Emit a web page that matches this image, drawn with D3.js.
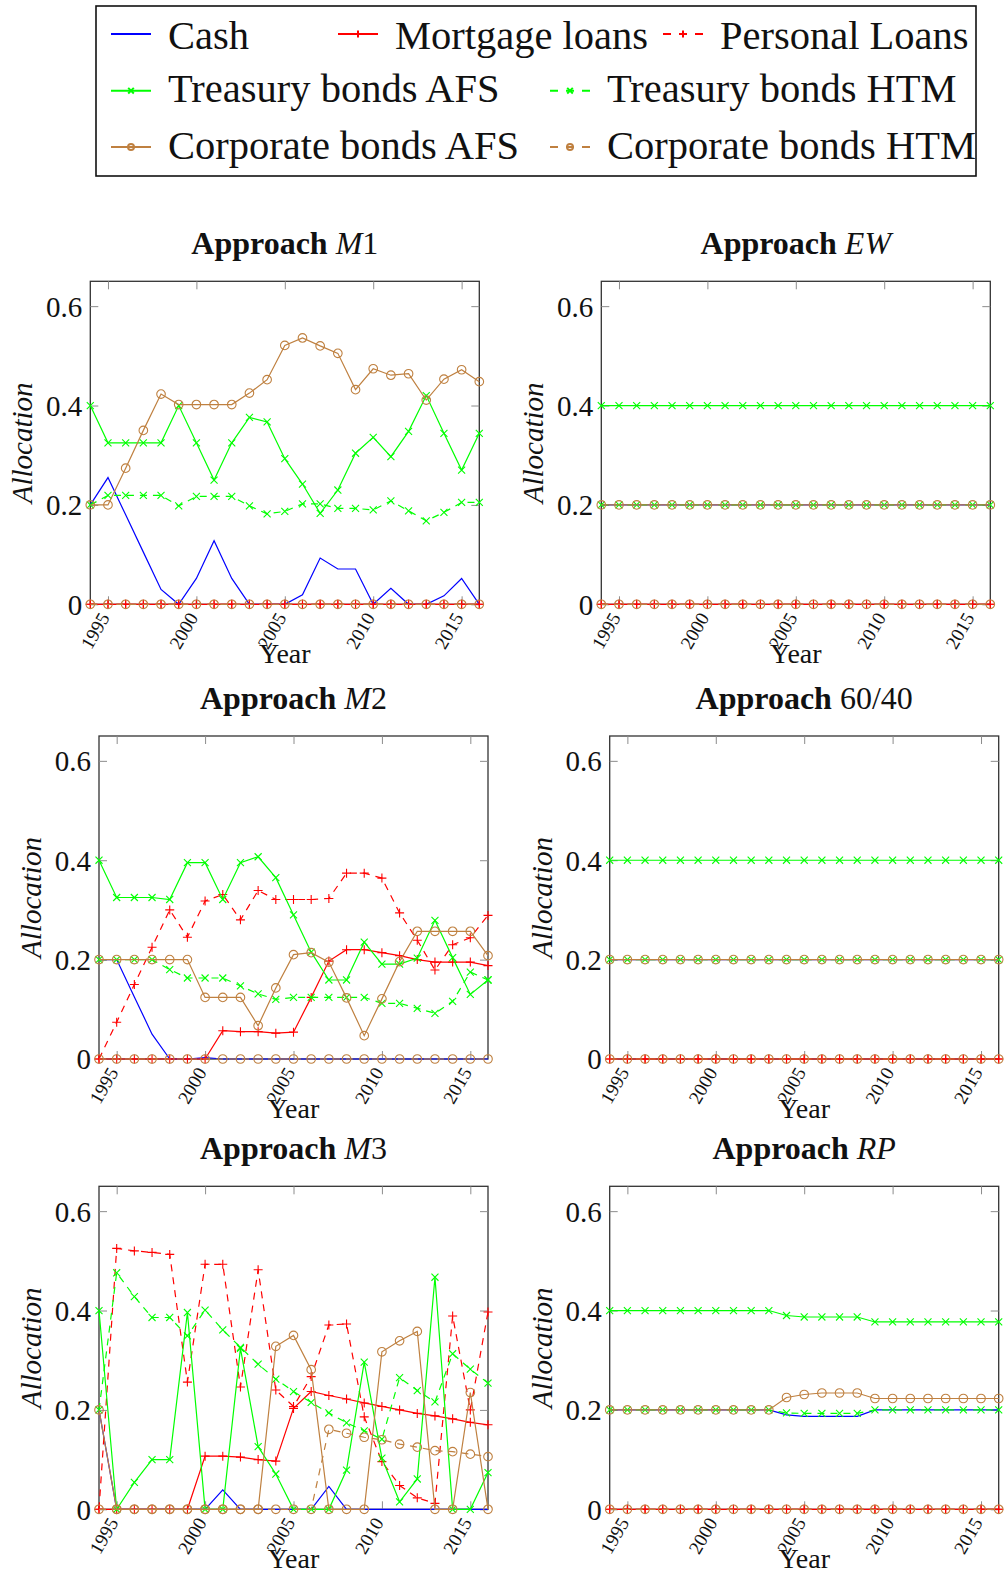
<!DOCTYPE html>
<html>
<head>
<meta charset="utf-8">
<script src="https://cdn.jsdelivr.net/npm/d3@7"></script>
<style>
  body { margin: 0; background: #fff; }
  svg { display: block; }
</style>
</head>
<body>
<div id="chart"></div>
<script>
// years on the x axis and the tick marks
const years = [1994, 1995, 1996, 1997, 1998, 1999, 2000, 2001, 2002, 2003, 2004, 2005,
  2006, 2007, 2008, 2009, 2010, 2011, 2012, 2013, 2014, 2015, 2016];
const xTicks = [1995, 2000, 2005, 2010, 2015];
const yTicks = [0, 0.2, 0.4, 0.6];

// Approach M1
const m1Cash = [0.2, 0.255, 0.18, 0.105, 0.03, 0, 0.052, 0.128, 0.052, 0, 0, 0, 0.019, 0.093, 0.071, 0.071, 0, 0.032, 0, 0, 0.017, 0.052, 0];
const m1Mortgage = [0, 0, 0, 0, 0, 0, 0, 0, 0, 0, 0, 0, 0, 0, 0, 0, 0, 0, 0, 0, 0, 0, 0];
const m1Personal = [0, 0, 0, 0, 0, 0, 0, 0, 0, 0, 0, 0, 0, 0, 0, 0, 0, 0, 0, 0, 0, 0, 0];
const m1TreasAFS = [0.4, 0.325, 0.325, 0.325, 0.325, 0.4, 0.325, 0.25, 0.325, 0.376, 0.367, 0.293, 0.242, 0.183, 0.23, 0.304, 0.336, 0.297, 0.348, 0.42, 0.344, 0.27, 0.344];
const m1TreasHTM = [0.2, 0.219, 0.219, 0.219, 0.219, 0.198, 0.217, 0.217, 0.217, 0.198, 0.182, 0.187, 0.202, 0.202, 0.193, 0.193, 0.19, 0.208, 0.188, 0.168, 0.185, 0.205, 0.205];
const m1CorpAFS = [0.2, 0.2, 0.274, 0.35, 0.423, 0.402, 0.402, 0.402, 0.402, 0.425, 0.452, 0.521, 0.536, 0.52, 0.505, 0.432, 0.474, 0.461, 0.464, 0.411, 0.453, 0.472, 0.448];
const m1CorpHTM = [0, 0, 0, 0, 0, 0, 0, 0, 0, 0, 0, 0, 0, 0, 0, 0, 0, 0, 0, 0, 0, 0, 0];

// Approach EW
const ewCash = [0.2, 0.2, 0.2, 0.2, 0.2, 0.2, 0.2, 0.2, 0.2, 0.2, 0.2, 0.2, 0.2, 0.2, 0.2, 0.2, 0.2, 0.2, 0.2, 0.2, 0.2, 0.2, 0.2];
const ewMortgage = [0, 0, 0, 0, 0, 0, 0, 0, 0, 0, 0, 0, 0, 0, 0, 0, 0, 0, 0, 0, 0, 0, 0];
const ewPersonal = [0, 0, 0, 0, 0, 0, 0, 0, 0, 0, 0, 0, 0, 0, 0, 0, 0, 0, 0, 0, 0, 0, 0];
const ewTreasAFS = [0.4, 0.4, 0.4, 0.4, 0.4, 0.4, 0.4, 0.4, 0.4, 0.4, 0.4, 0.4, 0.4, 0.4, 0.4, 0.4, 0.4, 0.4, 0.4, 0.4, 0.4, 0.4, 0.4];
const ewTreasHTM = [0.2, 0.2, 0.2, 0.2, 0.2, 0.2, 0.2, 0.2, 0.2, 0.2, 0.2, 0.2, 0.2, 0.2, 0.2, 0.2, 0.2, 0.2, 0.2, 0.2, 0.2, 0.2, 0.2];
const ewCorpAFS = [0.2, 0.2, 0.2, 0.2, 0.2, 0.2, 0.2, 0.2, 0.2, 0.2, 0.2, 0.2, 0.2, 0.2, 0.2, 0.2, 0.2, 0.2, 0.2, 0.2, 0.2, 0.2, 0.2];
const ewCorpHTM = [0, 0, 0, 0, 0, 0, 0, 0, 0, 0, 0, 0, 0, 0, 0, 0, 0, 0, 0, 0, 0, 0, 0];

// Approach M2
const m2Cash = [0.2, 0.2, 0.125, 0.05, 0, 0, 0.003, 0, 0, 0, 0, 0, 0, 0, 0, 0, 0, 0, 0, 0, 0, 0, 0];
const m2Mortgage = [0, 0, 0, 0, 0, 0, 0, 0.057, 0.055, 0.055, 0.052, 0.054, 0.124, 0.197, 0.22, 0.22, 0.214, 0.208, 0.2, 0.195, 0.195, 0.195, 0.188];
const m2Personal = [0, 0.074, 0.15, 0.225, 0.3, 0.245, 0.318, 0.331, 0.28, 0.339, 0.321, 0.321, 0.321, 0.323, 0.374, 0.374, 0.364, 0.294, 0.239, 0.179, 0.23, 0.244, 0.289];
const m2TreasAFS = [0.4, 0.325, 0.325, 0.325, 0.321, 0.395, 0.395, 0.321, 0.395, 0.407, 0.365, 0.29, 0.215, 0.159, 0.159, 0.235, 0.191, 0.191, 0.203, 0.279, 0.204, 0.13, 0.159];
const m2TreasHTM = [0.2, 0.2, 0.2, 0.2, 0.18, 0.163, 0.163, 0.163, 0.147, 0.131, 0.12, 0.124, 0.124, 0.124, 0.124, 0.124, 0.112, 0.112, 0.102, 0.092, 0.116, 0.175, 0.159];
const m2CorpAFS = [0.2, 0.2, 0.2, 0.2, 0.2, 0.2, 0.124, 0.124, 0.124, 0.067, 0.143, 0.21, 0.214, 0.195, 0.123, 0.047, 0.121, 0.196, 0.257, 0.257, 0.257, 0.257, 0.208];
const m2CorpHTM = [0, 0, 0, 0, 0, 0, 0, 0, 0, 0, 0, 0, 0, 0, 0, 0, 0, 0, 0, 0, 0, 0, 0];

// Approach 60/40
const s64Cash = [0.2, 0.2, 0.2, 0.2, 0.2, 0.2, 0.2, 0.2, 0.2, 0.2, 0.2, 0.2, 0.2, 0.2, 0.2, 0.2, 0.2, 0.2, 0.2, 0.2, 0.2, 0.2, 0.2];
const s64Mortgage = [0, 0, 0, 0, 0, 0, 0, 0, 0, 0, 0, 0, 0, 0, 0, 0, 0, 0, 0, 0, 0, 0, 0];
const s64Personal = [0, 0, 0, 0, 0, 0, 0, 0, 0, 0, 0, 0, 0, 0, 0, 0, 0, 0, 0, 0, 0, 0, 0];
const s64TreasAFS = [0.4, 0.4, 0.4, 0.4, 0.4, 0.4, 0.4, 0.4, 0.4, 0.4, 0.4, 0.4, 0.4, 0.4, 0.4, 0.4, 0.4, 0.4, 0.4, 0.4, 0.4, 0.4, 0.4];
const s64TreasHTM = [0.2, 0.2, 0.2, 0.2, 0.2, 0.2, 0.2, 0.2, 0.2, 0.2, 0.2, 0.2, 0.2, 0.2, 0.2, 0.2, 0.2, 0.2, 0.2, 0.2, 0.2, 0.2, 0.2];
const s64CorpAFS = [0.2, 0.2, 0.2, 0.2, 0.2, 0.2, 0.2, 0.2, 0.2, 0.2, 0.2, 0.2, 0.2, 0.2, 0.2, 0.2, 0.2, 0.2, 0.2, 0.2, 0.2, 0.2, 0.2];
const s64CorpHTM = [0, 0, 0, 0, 0, 0, 0, 0, 0, 0, 0, 0, 0, 0, 0, 0, 0, 0, 0, 0, 0, 0, 0];

// Approach M3
const m3Cash = [0.2, 0, 0, 0, 0, 0, 0, 0.039, 0, 0, 0, 0, 0, 0.046, 0, 0, 0, 0, 0, 0, 0, 0, 0];
const m3Mortgage = [0, 0, 0, 0, 0, 0, 0.107, 0.107, 0.105, 0.1, 0.097, 0.203, 0.237, 0.229, 0.222, 0.214, 0.207, 0.2, 0.193, 0.188, 0.182, 0.175, 0.17];
const m3Personal = [0, 0.525, 0.52, 0.517, 0.513, 0.256, 0.493, 0.493, 0.246, 0.482, 0.24, 0.207, 0.267, 0.371, 0.373, 0.186, 0.096, 0.048, 0.023, 0.012, 0.389, 0.2, 0.397];
const m3TreasAFS = [0.4, 0, 0.054, 0.1, 0.1, 0.396, 0, 0, 0.324, 0.126, 0.071, 0, 0, 0, 0.079, 0.296, 0.103, 0.015, 0.061, 0.467, 0, 0, 0.074];
const m3TreasHTM = [0.2, 0.476, 0.428, 0.386, 0.386, 0.349, 0.401, 0.361, 0.326, 0.292, 0.262, 0.237, 0.215, 0.194, 0.174, 0.158, 0.141, 0.265, 0.239, 0.216, 0.313, 0.282, 0.254];
const m3CorpAFS = [0.2, 0, 0, 0, 0, 0, 0, 0, 0, 0, 0.328, 0.35, 0.281, 0, 0, 0, 0.317, 0.339, 0.358, 0, 0, 0.235, 0];
const m3CorpHTM = [0, 0, 0, 0, 0, 0, 0, 0, 0, 0, 0, 0, 0, 0.161, 0.153, 0.145, 0.14, 0.131, 0.125, 0.118, 0.116, 0.111, 0.106];

// Approach RP
const rpCash = [0.2, 0.2, 0.2, 0.2, 0.2, 0.2, 0.2, 0.2, 0.2, 0.2, 0.19, 0.187, 0.187, 0.187, 0.187, 0.2, 0.2, 0.2, 0.2, 0.2, 0.2, 0.2, 0.2];
const rpMortgage = [0, 0, 0, 0, 0, 0, 0, 0, 0, 0, 0, 0, 0, 0, 0, 0, 0, 0, 0, 0, 0, 0, 0];
const rpPersonal = [0, 0, 0, 0, 0, 0, 0, 0, 0, 0, 0, 0, 0, 0, 0, 0, 0, 0, 0, 0, 0, 0, 0];
const rpTreasAFS = [0.4, 0.4, 0.4, 0.4, 0.4, 0.4, 0.4, 0.4, 0.4, 0.4, 0.39, 0.387, 0.387, 0.387, 0.387, 0.377, 0.377, 0.377, 0.377, 0.377, 0.377, 0.377, 0.377];
const rpTreasHTM = [0.2, 0.2, 0.2, 0.2, 0.2, 0.2, 0.2, 0.2, 0.2, 0.2, 0.194, 0.193, 0.193, 0.193, 0.193, 0.2, 0.2, 0.2, 0.2, 0.2, 0.2, 0.2, 0.2];
const rpCorpAFS = [0.2, 0.2, 0.2, 0.2, 0.2, 0.2, 0.2, 0.2, 0.2, 0.2, 0.225, 0.231, 0.234, 0.234, 0.234, 0.223, 0.223, 0.223, 0.223, 0.223, 0.223, 0.223, 0.223];
const rpCorpHTM = [0, 0, 0, 0, 0, 0, 0, 0, 0, 0, 0, 0, 0, 0, 0, 0, 0, 0, 0, 0, 0, 0, 0];

const FONT = "'Liberation Serif', 'DejaVu Serif', serif";
const W = 389; // plot width
const H = 323; // plot height
const DASH = '7,6';

// series styles, in drawing order
const series = [
	{ name: 'Cash', color: '#0000ff', dash: null, marker: null },
	{ name: 'Mortgage loans', color: '#ff0000', dash: null, marker: 'plus' },
	{ name: 'Personal Loans', color: '#ff0000', dash: DASH, marker: 'plus' },
	{ name: 'Treasury bonds AFS', color: '#00ff00', dash: null, marker: 'cross' },
	{ name: 'Treasury bonds HTM', color: '#00ff00', dash: DASH, marker: 'cross' },
	{ name: 'Corporate bonds AFS', color: '#bf8040', dash: null, marker: 'circle' },
	{ name: 'Corporate bonds HTM', color: '#bf8040', dash: DASH, marker: 'circle' }
];

const panels = [
	{ title: [['Approach ', 'b'], ['M', 'i'], ['1', 'n']], left: 90.3, top: 281.3,
		values: [m1Cash, m1Mortgage, m1Personal, m1TreasAFS, m1TreasHTM, m1CorpAFS, m1CorpHTM] },
	{ title: [['Approach ', 'b'], ['EW', 'i']], left: 601.3, top: 281.3,
		values: [ewCash, ewMortgage, ewPersonal, ewTreasAFS, ewTreasHTM, ewCorpAFS, ewCorpHTM] },
	{ title: [['Approach ', 'b'], ['M', 'i'], ['2', 'n']], left: 99, top: 736,
		values: [m2Cash, m2Mortgage, m2Personal, m2TreasAFS, m2TreasHTM, m2CorpAFS, m2CorpHTM] },
	{ title: [['Approach ', 'b'], ['60/40', 'n']], left: 609.7, top: 736,
		values: [s64Cash, s64Mortgage, s64Personal, s64TreasAFS, s64TreasHTM, s64CorpAFS, s64CorpHTM] },
	{ title: [['Approach ', 'b'], ['M', 'i'], ['3', 'n']], left: 99, top: 1186.3,
		values: [m3Cash, m3Mortgage, m3Personal, m3TreasAFS, m3TreasHTM, m3CorpAFS, m3CorpHTM] },
	{ title: [['Approach ', 'b'], ['RP', 'i']], left: 609.7, top: 1186.3,
		values: [rpCash, rpMortgage, rpPersonal, rpTreasAFS, rpTreasHTM, rpCorpAFS, rpCorpHTM] }
];

const svg = d3.select('#chart').append('svg')
		.attr('width', 1005).attr('height', 1576)
		.style('background', '#fff');

const x = d3.scaleLinear().domain([1994, 2016]).range([0, W]);
const y = d3.scaleLinear().domain([0, 0.65]).range([H, 0]);

/**
 * Draws one marker shape into a selection
 */
function drawMarker(sel, type, color, size, sw) {
	if (type === 'plus') {
		sel.append('path').attr('d', `M${-size},0H${size}M0,${-size}V${size}`)
				.attr('stroke', color).attr('stroke-width', sw).attr('fill', 'none');
	} else if (type === 'cross') {
		let s = size * 0.78;
		sel.append('path').attr('d', `M${-s},${-s}L${s},${s}M${-s},${s}L${s},${-s}`)
				.attr('stroke', color).attr('stroke-width', sw).attr('fill', 'none');
	} else if (type === 'circle') {
		sel.append('circle').attr('r', size).attr('stroke', color)
				.attr('stroke-width', sw).attr('fill', 'none');
	}
}

const line = d3.line().x(d => x(d[0])).y(d => y(d[1]));

panels.forEach(p => {
	let g = svg.append('g').attr('transform', `translate(${p.left},${p.top})`);

	// frame
	g.append('rect').attr('width', W).attr('height', H)
			.attr('fill', 'none').attr('stroke', '#333').attr('stroke-width', 1.3);

	// bottom axis with rotated year labels
	g.append('g').attr('transform', `translate(0,${H})`)
			.call(d3.axisBottom(x).tickValues(xTicks).tickSize(-8).tickFormat(d3.format('d')))
			.call(a => a.select('.domain').remove())
			.call(a => a.selectAll('line').attr('stroke', '#8c8c8c'))
			.call(a => a.selectAll('text')
					.attr('font-family', FONT).attr('font-size', 19).attr('fill', '#111')
					.attr('text-anchor', 'end').attr('y', 0).attr('dy', '0.35em')
					.attr('transform', 'translate(-4,10) rotate(-60)'));

	// top axis: ticks only
	g.append('g')
			.call(d3.axisTop(x).tickValues(xTicks).tickSize(-8).tickFormat(''))
			.call(a => a.select('.domain').remove())
			.call(a => a.selectAll('line').attr('stroke', '#8c8c8c'));

	// left axis
	g.append('g')
			.call(d3.axisLeft(y).tickValues(yTicks).tickSize(-8).tickPadding(8)
					.tickFormat(d => d === 0 ? '0' : d3.format('.1f')(d)))
			.call(a => a.select('.domain').remove())
			.call(a => a.selectAll('line').attr('stroke', '#8c8c8c'))
			.call(a => a.selectAll('text')
					.attr('font-family', FONT).attr('font-size', 29).attr('fill', '#111')
					.attr('dy', '0.34em'));

	// right axis: ticks only
	g.append('g').attr('transform', `translate(${W},0)`)
			.call(d3.axisRight(y).tickValues(yTicks).tickSize(-8).tickFormat(''))
			.call(a => a.select('.domain').remove())
			.call(a => a.selectAll('line').attr('stroke', '#8c8c8c'));

	// axis labels
	g.append('text').text('Allocation')
			.attr('transform', `translate(-58,${H / 2}) rotate(-90)`)
			.attr('text-anchor', 'middle')
			.attr('font-family', FONT).attr('font-size', 29).attr('font-style', 'italic')
			.attr('fill', '#111');

	g.append('text').text('Year')
			.attr('x', W / 2).attr('y', H + 59)
			.attr('text-anchor', 'middle')
			.attr('font-family', FONT).attr('font-size', 28).attr('fill', '#111');

	// title
	let title = g.append('text').attr('x', W / 2).attr('y', -27)
			.attr('text-anchor', 'middle')
			.attr('font-family', FONT).attr('font-size', 32).attr('fill', '#111');
	p.title.forEach(([t, s]) => {
		title.append('tspan').text(t)
				.attr('font-weight', s === 'b' ? 'bold' : 'normal')
				.attr('font-style', s === 'i' ? 'italic' : 'normal');
	});

	// series lines and markers
	series.forEach((s, i) => {
		let pts = years.map((yr, j) => [yr, p.values[i][j]]);
		g.append('path').datum(pts)
				.attr('d', line)
				.attr('fill', 'none').attr('stroke', s.color).attr('stroke-width', 1.2)
				.attr('stroke-dasharray', s.dash);
		if (s.marker) {
			g.append('g').selectAll('g').data(pts).enter().append('g')
					.attr('transform', d => `translate(${x(d[0])},${y(d[1])})`)
					.each(function () {
						drawMarker(d3.select(this), s.marker, s.color, s.marker === 'circle' ? 4.3 : 4.5, 1.1);
					});
		}
	});
});

// legend
const legend = svg.append('g');
legend.append('rect').attr('x', 96).attr('y', 6).attr('width', 880).attr('height', 170)
		.attr('fill', '#fff').attr('stroke', '#111').attr('stroke-width', 1.6);

// legend item slots: sample start x, row
const legendSlots = [
	{ x: 111, row: 0 }, { x: 338, row: 0 }, { x: 663, row: 0 },
	{ x: 111, row: 1 }, { x: 550, row: 1 },
	{ x: 111, row: 2 }, { x: 550, row: 2 }
];
const rowLine = [34, 90.7, 147];
const rowBase = [48.5, 102, 158.5];

series.forEach((s, i) => {
	let slot = legendSlots[i];
	let item = legend.append('g');
	item.append('line')
			.attr('x1', slot.x).attr('x2', slot.x + 40)
			.attr('y1', rowLine[slot.row]).attr('y2', rowLine[slot.row])
			.attr('stroke', s.color).attr('stroke-width', 2)
			.attr('stroke-dasharray', s.dash ? '8,8' : null);
	if (s.marker) {
		let m = item.append('g').attr('transform', `translate(${slot.x + 20},${rowLine[slot.row]})`);
		drawMarker(m, s.marker, s.color, s.marker === 'circle' ? 3 : 3.6, 2);
	}
	item.append('text').text(s.name)
			.attr('x', slot.x + 57).attr('y', rowBase[slot.row])
			.attr('font-family', FONT).attr('font-size', 40.5).attr('fill', '#111');
});
</script>
</body>
</html>
